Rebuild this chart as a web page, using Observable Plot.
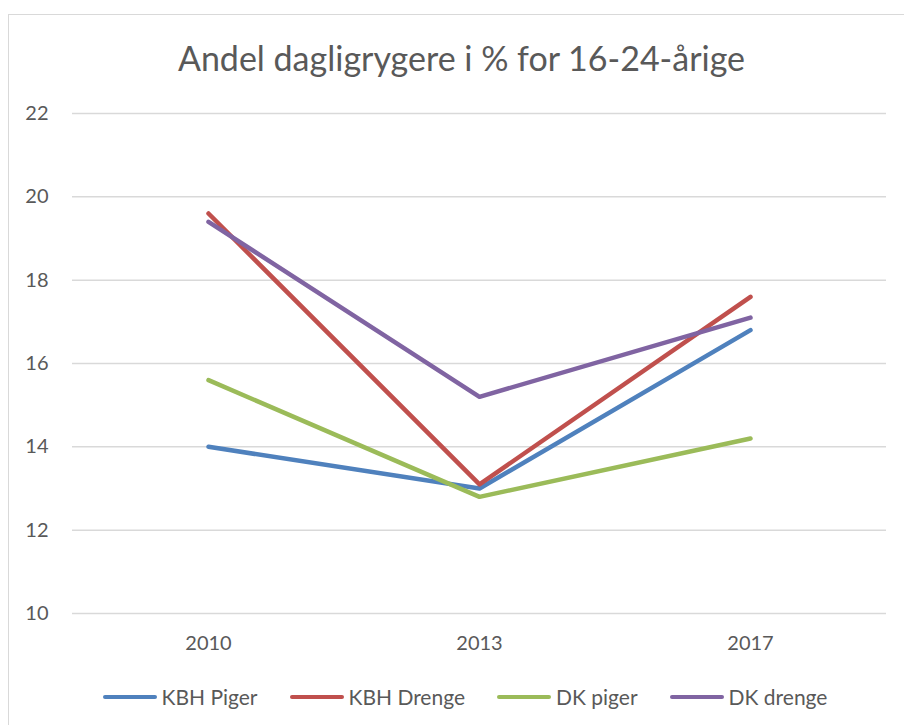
<!DOCTYPE html>
<html>
<head>
<meta charset="utf-8">
<script src="https://cdn.jsdelivr.net/npm/d3@7"></script>
<script src="https://cdn.jsdelivr.net/npm/@observablehq/plot@0.6"></script>
<style>
  html, body { margin: 0; padding: 0; background: #fff; width: 904px; height: 725px; overflow: hidden; }
  body { position: relative; font-family: Lato, "Open Sans", sans-serif; color: #595959; }
  #frame { position: absolute; left: 8px; top: 14px; width: 1200px; height: 1200px; border: 1px solid #d9d9d9; box-sizing: border-box; }
  #title { position: absolute; left: 0; width: 923px; top: 37px; text-align: center; font-size: 34px; line-height: 42px; white-space: nowrap; }
  #chart { position: absolute; left: 0; top: 0; }
  #legend { position: absolute; left: 0; width: 930px; top: 684px; display: flex; justify-content: center; gap: 32px; font-size: 21px; line-height: 26px; }
  .item { display: flex; align-items: center; gap: 5px; }
  .sw { width: 54px; height: 4px; border-radius: 2px; }
</style>
</head>
<body>
<div id="frame"></div>
<div id="chart"></div>
<div id="title">Andel dagligrygere i % for 16-24-årige</div>
<div id="legend"></div>
<script>
const years = ["2010", "2013", "2017"];
const seriesNames = ["KBH Piger", "KBH Drenge", "DK piger", "DK drenge"];
const kbhPiger = [14.0, 13.0, 16.8];
const kbhDrenge = [19.6, 13.1, 17.6];
const dkPiger = [15.6, 12.8, 14.2];
const dkDrenge = [19.4, 15.2, 17.1];
const yTicks = [10, 12, 14, 16, 18, 20, 22];
const colors = ["#4F81BD", "#C0504D", "#9BBB59", "#8064A2"];

const seriesValues = [kbhPiger, kbhDrenge, dkPiger, dkDrenge];
const data = [];
seriesNames.forEach((s, i) => years.forEach((y, j) => data.push({series: s, year: y, value: seriesValues[i][j]})));

const chart = Plot.plot({
  width: 904,
  height: 725,
  marginTop: 113,
  marginBottom: 112,
  marginLeft: 72,
  marginRight: 18,
  style: {fontFamily: "Lato, 'Open Sans', sans-serif", fontSize: "20px", color: "#595959", background: "transparent"},
  x: {type: "point", domain: years, padding: 0.5, label: null},
  y: {domain: [10, 22], label: null},
  color: {domain: seriesNames, range: colors},
  marks: [
    Plot.ruleY(yTicks, {stroke: "#d9d9d9", strokeWidth: 1.5}),
    Plot.axisY({ticks: yTicks, tickSize: 0, tickPadding: 24, label: null, fontSize: 20}),
    Plot.axisX({tickSize: 0, tickPadding: 22, label: null, fontSize: 20}),
    Plot.line(data, {x: "year", y: "value", z: "series", stroke: "series", strokeWidth: 4.5, strokeLinecap: "round", strokeLinejoin: "round"})
  ]
});
document.getElementById("chart").appendChild(chart);

const legend = document.getElementById("legend");
seriesNames.forEach((s, i) => {
  const item = document.createElement("div");
  item.className = "item";
  const sw = document.createElement("div");
  sw.className = "sw";
  sw.style.background = colors[i];
  const t = document.createElement("span");
  t.textContent = s;
  item.appendChild(sw);
  item.appendChild(t);
  legend.appendChild(item);
});
</script>
</body>
</html>
